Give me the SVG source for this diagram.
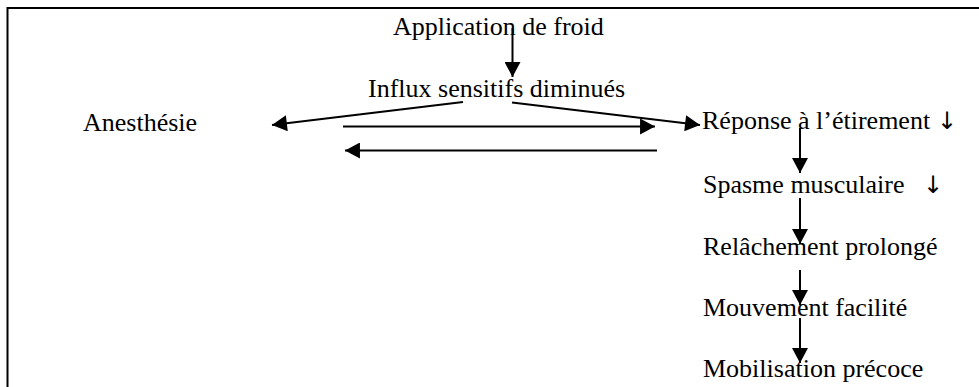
<svg xmlns="http://www.w3.org/2000/svg" width="979" height="387" viewBox="0 0 979 387">
  <style>
    .lbl { font-family: "Liberation Serif", "Times New Roman", serif; font-size: 26px; fill: #000; }
    .sym { font-family: "DejaVu Sans", "Liberation Serif", sans-serif; font-size: 24px; fill: #000; }
    .frame { stroke: #000; stroke-width: 2; fill: none; }
    .link { stroke: #000; stroke-width: 2; fill: none; marker-end: url(#head); }
  </style>
  <defs>
    <marker id="head" markerUnits="userSpaceOnUse" markerWidth="16" markerHeight="16" viewBox="0 0 14 15" refX="14" refY="7.5" orient="auto">
      <path d="M0,0 L14,7.5 L0,15 Z" fill="#000"/>
    </marker>
  </defs>

  <rect width="979" height="387" fill="#fff"/>
  <!-- open frame: top and left edges -->
  <path class="frame" d="M979,8 H7.5 V387"/>

  <g id="connectors">
    <line class="link" x1="512.5" y1="28" x2="512.5" y2="77"/>
    <line class="link" x1="463" y1="102" x2="272" y2="125"/>
    <line class="link" x1="512" y1="102.5" x2="700" y2="125"/>
    <line class="link" x1="343" y1="126.5" x2="655" y2="126.5"/>
    <line class="link" x1="657" y1="150.5" x2="345" y2="150.5"/>
    <line class="link" x1="800" y1="128" x2="800" y2="173"/>
    <line class="link" x1="800" y1="198" x2="800" y2="244"/>
    <line class="link" x1="800" y1="270" x2="800" y2="305"/>
    <line class="link" x1="800" y1="318" x2="800" y2="363"/>
  </g>

  <g id="application-froid"><text class="lbl" x="393" y="35">Application de froid</text></g>
  <g id="influx-sensitifs"><text class="lbl" x="368" y="97">Influx sensitifs diminués</text></g>
  <g id="anesthesie"><text class="lbl" x="83" y="131">Anesthésie</text></g>
  <g id="reponse-etirement"><text class="lbl" x="702" y="129">Réponse à l’étirement <tspan class="sym" x="937">↓</tspan></text></g>
  <g id="spasme-musculaire"><text class="lbl" x="703" y="193">Spasme musculaire <tspan class="sym" x="923">↓</tspan></text></g>
  <g id="relachement-prolonge"><text class="lbl" x="703" y="255">Relâchement prolongé</text></g>
  <g id="mouvement-facilite"><text class="lbl" x="703" y="316">Mouvement facilité</text></g>
  <g id="mobilisation-precoce"><text class="lbl" x="703" y="377">Mobilisation précoce</text></g>
</svg>
